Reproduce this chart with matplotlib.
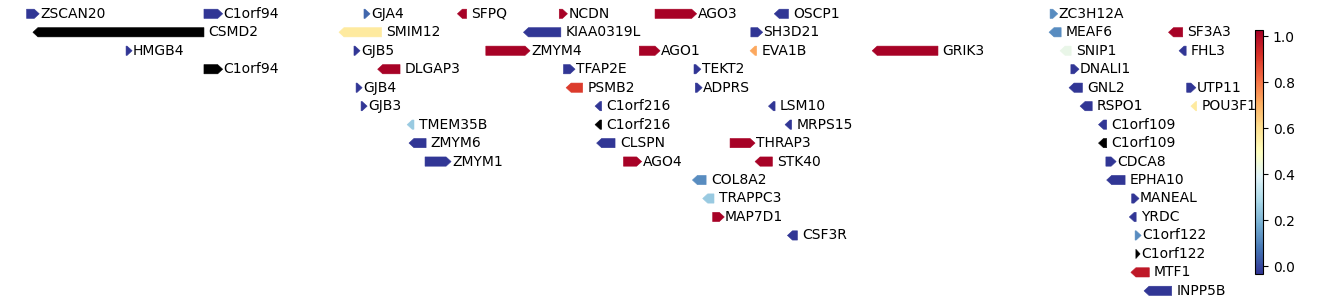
import numpy as np
import matplotlib
matplotlib.use("Agg")
import matplotlib.pyplot as plt
from matplotlib.collections import PolyCollection
from matplotlib.colors import Normalize

# ---- data (positions in kb on chr1) ----
genes = ["ZSCAN20", "C1orf94", "GJA4", "SFPQ", "NCDN", "AGO3", "OSCP1", "ZC3H12A",
         "CSMD2", "SMIM12", "KIAA0319L", "SH3D21", "MEAF6", "SF3A3",
         "HMGB4", "GJB5", "ZMYM4", "AGO1", "EVA1B", "GRIK3", "SNIP1", "FHL3",
         "C1orf94", "DLGAP3", "TFAP2E", "TEKT2", "DNALI1",
         "GJB4", "PSMB2", "ADPRS", "GNL2", "UTP11",
         "GJB3", "C1orf216", "LSM10", "RSPO1", "POU3F1",
         "TMEM35B", "C1orf216", "MRPS15", "C1orf109",
         "ZMYM6", "CLSPN", "THRAP3", "C1orf109",
         "ZMYM1", "AGO4", "STK40", "CDCA8",
         "COL8A2", "EPHA10",
         "TRAPPC3", "MANEAL",
         "MAP7D1", "YRDC",
         "CSF3R", "C1orf122",
         "C1orf122",
         "MTF1",
         "INPP5B"]
starts = [33471, 34145, 34753, 35108, 35495, 35859, 36312, 37360,
          33495, 34658, 35359, 36223, 37356, 37810,
          33849, 34715, 35216, 35799, 36220, 36684, 37398, 37850,
          34145, 34805, 35511, 36007, 37439,
          34723, 35521, 36012, 37432, 37879,
          34742, 35631, 36290, 37474, 37895,
          34917, 35631, 36353, 37544,
          34924, 35637, 36144, 37544,
          34985, 35739, 36239, 37572,
          36001, 37575,
          36040, 37670,
          36078, 37661,
          36362, 37683,
          37686,
          37667,
          37717]
ends = [33519, 34216, 34776, 35143, 35526, 36017, 36366, 37389,
        34145, 34820, 35501, 36268, 37402, 37864,
        33872, 34738, 35384, 35878, 36245, 36934, 37440, 37877,
        34216, 34890, 35555, 36033, 37470,
        34746, 35584, 36038, 37483, 37914,
        34765, 35656, 36315, 37520, 37917,
        34943, 35656, 36378, 37575,
        34989, 35707, 36239, 37575,
        35084, 35808, 36305, 37611,
        36053, 37645,
        36083, 37698,
        36122, 37687,
        36400, 37706,
        37702,
        37737,
        37822]
strands = ["+", "+", "+", "-", "+", "+", "-", "+",
           "-", "-", "-", "+", "-", "-",
           "+", "+", "+", "+", "-", "-", "-", "-",
           "+", "-", "+", "+", "+",
           "+", "-", "+", "-", "+",
           "+", "-", "-", "-", "-",
           "-", "-", "-", "-",
           "-", "-", "+", "-",
           "+", "+", "-", "+",
           "-", "-",
           "-", "+",
           "+", "-",
           "-", "+",
           "+",
           "-",
           "-"]
rows = [0, 0, 0, 0, 0, 0, 0, 0,
        1, 1, 1, 1, 1, 1,
        2, 2, 2, 2, 2, 2, 2, 2,
        3, 3, 3, 3, 3,
        4, 4, 4, 4, 4,
        5, 5, 5, 5, 5,
        6, 6, 6, 6,
        7, 7, 7, 7,
        8, 8, 8, 8,
        9, 9,
        10, 10,
        11, 11,
        12, 12,
        13,
        14,
        15]
nan = np.nan
lo, hi = -0.03, 1.02
values = [lo, lo, 0.05, hi, hi, hi, lo, 0.12,
          nan, 0.57, lo, lo, 0.12, hi,
          lo, lo, hi, hi, 0.72, hi, 0.42, lo,
          nan, hi, lo, lo, lo,
          lo, 0.9, lo, lo, lo,
          lo, lo, lo, lo, 0.57,
          0.25, nan, lo, lo,
          lo, lo, hi, nan,
          lo, hi, hi, lo,
          0.12, lo,
          0.25, lo,
          hi, lo,
          lo, 0.12,
          nan,
          0.97,
          lo]
cbar_ticks = [0.0, 0.2, 0.4, 0.6, 0.8, 1.0]

# ---- figure ----
W, H = 1338, 305
fig = plt.figure(figsize=(W / 100, H / 100), dpi=100)
ax = fig.add_axes([0, 0, 1238 / W, 1])
x_lo, x_hi = 33370, 38074
ax.set_xlim(x_lo, x_hi)
row_px = 18.47
top_px = 13.8
ax.set_ylim((H - top_px) / row_px, -top_px / row_px)
ax.axis("off")

kb_per_px = (x_hi - x_lo) / 1238
head = 5 * kb_per_px
hh = 0.25

polys = []
for s, e, st, r in zip(starts, ends, strands, rows):
    hl = min(head, e - s)
    if st == "+":
        polys.append([(s, r - hh), (e - hl, r - hh), (e, r), (e - hl, r + hh), (s, r + hh)])
    else:
        polys.append([(e, r - hh), (s + hl, r - hh), (s, r), (s + hl, r + hh), (e, r + hh)])

cmap = plt.get_cmap("RdYlBu_r").copy()
cmap.set_bad("black")
norm = Normalize(vmin=-0.033, vmax=1.028)
pc = PolyCollection(polys, cmap=cmap, norm=norm, linewidths=0.4)
pc.set_array(np.ma.masked_invalid(np.array(values, dtype=float)))
pc.set_edgecolor("face")
ax.add_collection(pc)

for g, e, st, r in zip(genes, ends, strands, rows):
    off = 0.6 if st == "+" else 3.4
    ax.annotate(g, xy=(e, r), xytext=(off, 0), textcoords="offset points",
                va="center", ha="left", fontsize=10, color="black")

cax = fig.add_axes([1255 / W, (H - 274) / H, 8 / W, 244 / H])
sm = matplotlib.cm.ScalarMappable(norm=norm, cmap=cmap)
cb = fig.colorbar(sm, cax=cax, ticks=cbar_ticks)
cb.ax.tick_params(labelsize=10)
cb.outline.set_linewidth(0.8)

fig.savefig("out.png", dpi=100)
